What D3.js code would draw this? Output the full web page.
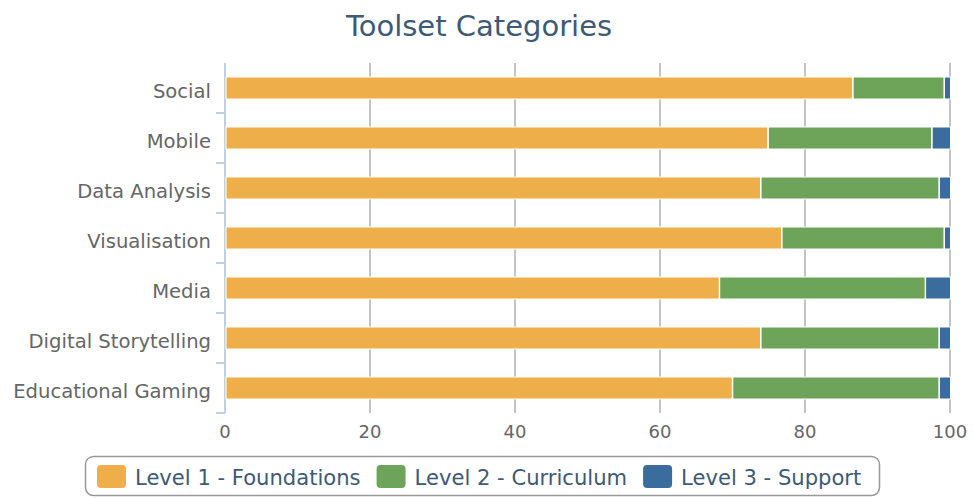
<!DOCTYPE html>
<html>
<head>
<meta charset="utf-8">
<script src="https://cdn.jsdelivr.net/npm/d3@7/dist/d3.min.js"></script>
<style>
  body { margin: 0; background: #fff; }
  svg { display: block; font-family: "DejaVu Sans", sans-serif; }
</style>
</head>
<body>
<div id="chart"></div>
<script>
/** Chart data */
const categories = ["Social", "Mobile", "Data Analysis", "Visualisation", "Media", "Digital Storytelling", "Educational Gaming"];
const seriesNames = ["Level 1 - Foundations", "Level 2 - Curriculum", "Level 3 - Support"];
const level1 = [86.5, 74.8, 73.8, 76.7, 68.1, 73.8, 69.9];
const level2 = [12.6, 22.6, 24.6, 22.4, 28.4, 24.6, 28.5];
const level3 = [0.9, 2.6, 1.6, 0.9, 3.5, 1.6, 1.6];
const xTicks = [0, 20, 40, 60, 80, 100];
const colors = ["#eeaf4b", "#6ea45a", "#3b6c9e"];

/** Graph configs */
const width = 973;
const height = 498;
const plot = { left: 225, right: 950, top: 63, bottom: 413 };

const rows = categories.map((c, i) => ({ cat: c, l1: level1[i], l2: level2[i], l3: level3[i] }));
const stacked = d3.stack().keys(["l1", "l2", "l3"])(rows);

const xScale = d3.scaleLinear().domain([0, 100]).range([plot.left, plot.right]);
const yScale = d3.scaleBand()
  .domain(categories)
  .range([plot.top, plot.bottom])
  .paddingInner(0.56)
  .paddingOuter(0.28);

const svg = d3.select("#chart").append("svg")
  .attr("width", width)
  .attr("height", height);

/** Title */
svg.append("text")
  .attr("x", 479)
  .attr("y", 36)
  .attr("text-anchor", "middle")
  .attr("fill", "#3e5a74")
  .attr("font-size", 29)
  .text("Toolset Categories");

/** Grid lines */
svg.append("g")
  .selectAll("line")
  .data(xTicks.filter((d) => d > 0))
  .join("line")
  .attr("x1", (d) => xScale(d))
  .attr("x2", (d) => xScale(d))
  .attr("y1", plot.top)
  .attr("y2", plot.bottom)
  .attr("stroke", "#c4c4c4")
  .attr("stroke-width", 2);

/** X tick labels */
svg.append("g")
  .selectAll("text")
  .data(xTicks)
  .join("text")
  .attr("x", (d) => xScale(d))
  .attr("y", 438)
  .attr("text-anchor", "middle")
  .attr("fill", "#666")
  .attr("font-size", 18)
  .text((d) => d);

/** Y axis line + ticks */
const yAxis = svg.append("g");
yAxis.append("line")
  .attr("x1", plot.left).attr("x2", plot.left)
  .attr("y1", plot.top).attr("y2", plot.bottom)
  .attr("stroke", "#c0d0e0")
  .attr("stroke-width", 2);
const step = yScale.step();
yAxis.selectAll("line.tick")
  .data(d3.range(categories.length))
  .join("line")
  .attr("class", "tick")
  .attr("x1", plot.left - 9).attr("x2", plot.left)
  .attr("y1", (i) => plot.top + step * (i + 1))
  .attr("y2", (i) => plot.top + step * (i + 1))
  .attr("stroke", "#c0d0e0")
  .attr("stroke-width", 2);
yAxis.selectAll("text")
  .data(categories)
  .join("text")
  .attr("x", 211)
  .attr("y", (d) => yScale(d) + yScale.bandwidth() / 2 + 10)
  .attr("text-anchor", "end")
  .attr("fill", "#666")
  .attr("font-size", 19.6)
  .text((d) => d);

/** Bars */
svg.append("g")
  .selectAll("g")
  .data(stacked)
  .join("g")
  .attr("fill", (d, i) => colors[i])
  .selectAll("rect")
  .data((d) => d)
  .join("rect")
  .attr("x", (d) => xScale(d[0]) + 1)
  .attr("y", (d) => yScale(d.data.cat))
  .attr("width", (d) => Math.max(0, xScale(d[1]) - xScale(d[0]) - 0.5))
  .attr("height", yScale.bandwidth())
  .attr("stroke", "#fff")
  .attr("stroke-width", 1);

/** Legend */
const legend = svg.append("g");
legend.append("rect")
  .attr("x", 85.5).attr("y", 456.5)
  .attr("width", 794).attr("height", 39)
  .attr("rx", 8)
  .attr("fill", "#fff")
  .attr("stroke", "#999")
  .attr("stroke-width", 1.5);
let lx = 97;
seriesNames.forEach((name, i) => {
  legend.append("rect")
    .attr("x", lx).attr("y", 465)
    .attr("width", 29).attr("height", 23)
    .attr("rx", 4)
    .attr("fill", colors[i]);
  const t = legend.append("text")
    .attr("x", lx + 38)
    .attr("y", 485)
    .attr("fill", "#3e5a74")
    .attr("font-size", 21.1)
    .text(name);
  lx += 38 + t.node().getComputedTextLength() + 16;
});
</script>
</body>
</html>
